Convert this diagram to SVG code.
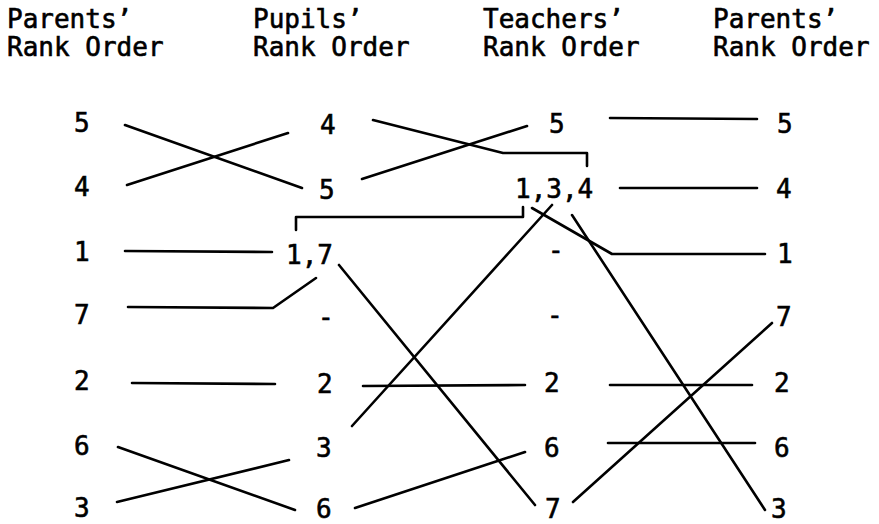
<svg xmlns="http://www.w3.org/2000/svg" width="879" height="524" viewBox="0 0 879 524">
<style>
text{font-family:"DejaVu Sans Mono","Liberation Mono",monospace;font-size:26px;fill:#000;stroke:#000;stroke-width:0.6}
.n{font-size:26px}
.c path{fill:none;stroke:#000;stroke-width:2.6;stroke-linecap:round;stroke-linejoin:round}
</style>
<rect width="879" height="524" fill="#fff"/>
<g id="headers">
<g id="h1"><text x="7" y="28">Parents’</text><text x="7" y="56">Rank Order</text></g>
<g id="h2"><text x="253" y="28">Pupils’</text><text x="253" y="56">Rank Order</text></g>
<g id="h3"><text x="483" y="28">Teachers’</text><text x="483" y="56">Rank Order</text></g>
<g id="h4"><text x="713" y="28">Parents’</text><text x="713" y="56">Rank Order</text></g>
</g>
<g id="col1">
<g id="p1-5"><text class="n" x="74" y="132">5</text></g>
<g id="p1-4"><text class="n" x="74" y="196">4</text></g>
<g id="p1-1"><text class="n" x="74" y="261">1</text></g>
<g id="p1-7"><text class="n" x="74" y="324">7</text></g>
<g id="p1-2"><text class="n" x="74" y="390">2</text></g>
<g id="p1-6"><text class="n" x="74" y="455">6</text></g>
<g id="p1-3"><text class="n" x="74" y="517">3</text></g>
</g>
<g id="col2">
<g id="u-4"><text class="n" x="320" y="134">4</text></g>
<g id="u-5"><text class="n" x="319" y="199">5</text></g>
<g id="u-17"><text class="n" x="286" y="264">1,7</text></g>
<g id="u-dash"><text class="n" x="318" y="326">-</text></g>
<g id="u-2"><text class="n" x="317" y="393">2</text></g>
<g id="u-3"><text class="n" x="316" y="457">3</text></g>
<g id="u-6"><text class="n" x="316" y="518">6</text></g>
</g>
<g id="col3">
<g id="t-5"><text class="n" x="549" y="133">5</text></g>
<g id="t-134"><text class="n" x="515" y="198">1,3,4</text></g>
<g id="t-dash1"><text class="n" x="548" y="259">-</text></g>
<g id="t-dash2"><text class="n" x="547" y="324">-</text></g>
<g id="t-2"><text class="n" x="544" y="392">2</text></g>
<g id="t-6"><text class="n" x="544" y="457">6</text></g>
<g id="t-7"><text class="n" x="545" y="518">7</text></g>
</g>
<g id="col4">
<g id="p2-5"><text class="n" x="777" y="133">5</text></g>
<g id="p2-4"><text class="n" x="776" y="198">4</text></g>
<g id="p2-1"><text class="n" x="777" y="263">1</text></g>
<g id="p2-7"><text class="n" x="776" y="326">7</text></g>
<g id="p2-2"><text class="n" x="774" y="392">2</text></g>
<g id="p2-6"><text class="n" x="774" y="457">6</text></g>
<g id="p2-3"><text class="n" x="771" y="518">3</text></g>
</g>
<g id="connectors" class="c">
<path d="M125,125 L302,188"/>
<path d="M127,185 L288,133"/>
<path d="M125,251 L272,252"/>
<path d="M128,307 L273,308 L316,278"/>
<path d="M132,383 L275,384"/>
<path d="M118,447 L295,510"/>
<path d="M117,502 L289,460"/>
<path d="M296,230 V217 H523 V207"/>
<path d="M373,120 L503,153 H587 V166"/>
<path d="M362,179 L527,126"/>
<path d="M339,265 L535,505"/>
<path d="M352,426 L552,205"/>
<path d="M363,386 L525,385"/>
<path d="M355,508 L525,452"/>
<path d="M610,118 L757,119"/>
<path d="M620,188 L757,188"/>
<path d="M532,208 L612,254 H765"/>
<path d="M572,215 L765,510"/>
<path d="M573,502 L772,323"/>
<path d="M610,385 L752,385"/>
<path d="M608,443 L755,443"/>
</g>
</svg>
